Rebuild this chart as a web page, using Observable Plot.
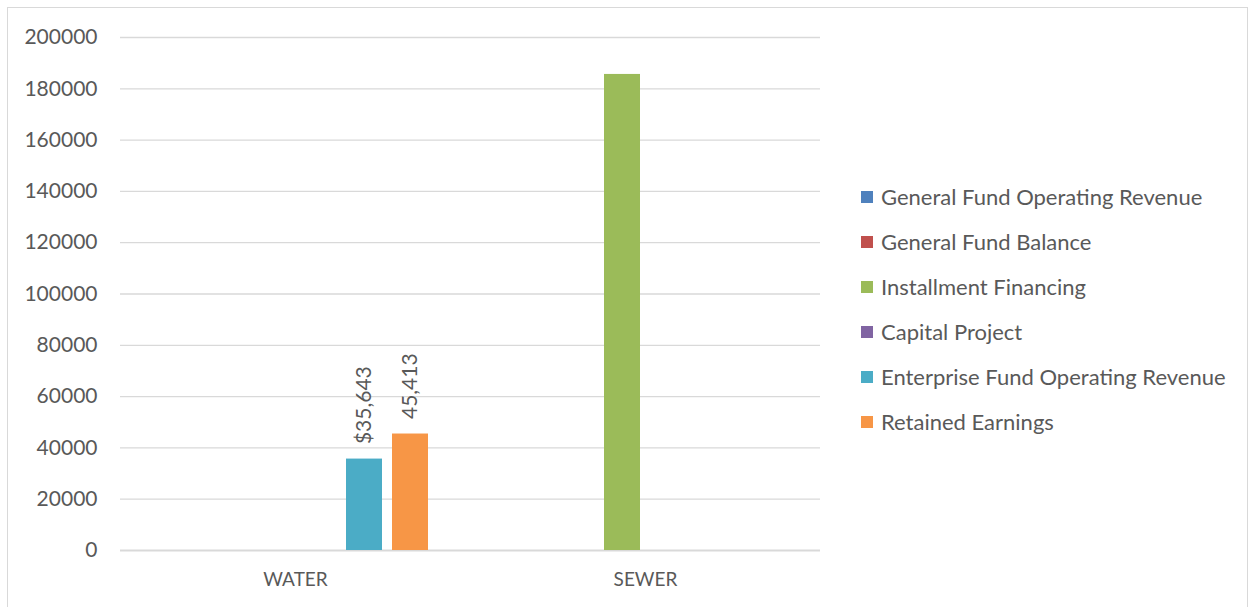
<!DOCTYPE html>
<html>
<head>
<meta charset="utf-8">
<script src="https://cdn.jsdelivr.net/npm/d3@7"></script>
<script src="https://cdn.jsdelivr.net/npm/@observablehq/plot@0.6"></script>
<style>
  html, body { margin: 0; padding: 0; background: #fff; }
  #chart { position: relative; width: 1254px; height: 607px; overflow: hidden; font-family: Lato, "Open Sans", sans-serif; }
  #frame { position: absolute; left: 7px; top: 7px; width: 1241px; height: 610px; border: 1px solid #d9d9d9; box-sizing: border-box; pointer-events: none; }
  #legend { position: absolute; left: 861px; top: 174px; }
  .item { display: flex; align-items: center; height: 45px; font-size: 22px; color: #595959; white-space: nowrap; }
  .swatch { width: 12px; height: 12px; margin-right: 8px; }
</style>
</head>
<body>
<div id="chart"><div id="frame"></div><div id="legend"></div></div>
<script>
// Funding categories and sources
const categories = ["WATER", "SEWER"];
const series = [
  "General Fund Operating Revenue",
  "General Fund Balance",
  "Installment Financing",
  "Capital Project",
  "Enterprise Fund Operating Revenue",
  "Retained Earnings"
];
const colors = ["#4f81bd", "#c0504d", "#9bbb59", "#8064a2", "#4bacc6", "#f79646"];

// Amounts per funding source (null = no funding)
const waterValues = [null, null, null, null, 35643, 45413];
const sewerValues = [null, null, 185600, null, null, null];

// Data labels shown above bars
const waterLabels = [null, null, null, null, "$35,643", "45,413"];
const sewerLabels = [null, null, null, null, null, null];

const yTicks = d3.range(0, 200001, 20000);

const rows = [];
categories.forEach((c, ci) => {
  const vals = ci === 0 ? waterValues : sewerValues;
  const labs = ci === 0 ? waterLabels : sewerLabels;
  series.forEach((s, si) => {
    if (vals[si] != null) rows.push({category: c, source: s, value: vals[si], label: labs[si]});
  });
});

const font = "Lato, 'Open Sans', sans-serif";

const plot = Plot.plot({
  width: 1254,
  height: 607,
  marginLeft: 120,
  marginRight: 434,
  marginTop: 37,
  marginBottom: 57,
  style: {fontFamily: font, fontSize: "21px", color: "#595959", background: "transparent"},
  fx: {domain: categories, padding: 0, label: null},
  x: {domain: series, paddingInner: 0.213, paddingOuter: 0.83, axis: null},
  y: {domain: [0, 200000], ticks: yTicks, label: null},
  color: {domain: series, range: colors},
  marks: [
    Plot.ruleY(yTicks.slice(1), {stroke: "#d9d9d9", strokeWidth: 1.3}),
    Plot.ruleY([0], {stroke: "#d9d9d9", strokeWidth: 2}),
    Plot.axisY({ticks: yTicks, tickSize: 0, tickPadding: 23, tickFormat: d => String(d), label: null, fill: "#595959"}),
    Plot.axisFx({anchor: "bottom", tickSize: 0, tickPadding: 22, label: null, fill: "#595959", fontSize: 19}),
    Plot.barY(rows, {fx: "category", x: "source", y: "value", fill: "source"}),
    Plot.text(rows.filter(d => d.label), {
      fx: "category", x: "source", y: "value", text: "label",
      rotate: -90, textAnchor: "start", dy: -15, fill: "#595959", fontSize: 21
    })
  ]
});

document.getElementById("chart").prepend(plot);

const legend = document.getElementById("legend");
series.forEach((s, i) => {
  const item = document.createElement("div");
  item.className = "item";
  const sw = document.createElement("span");
  sw.className = "swatch";
  sw.style.background = colors[i];
  const t = document.createElement("span");
  t.textContent = s;
  item.append(sw, t);
  legend.append(item);
});
</script>
</body>
</html>
